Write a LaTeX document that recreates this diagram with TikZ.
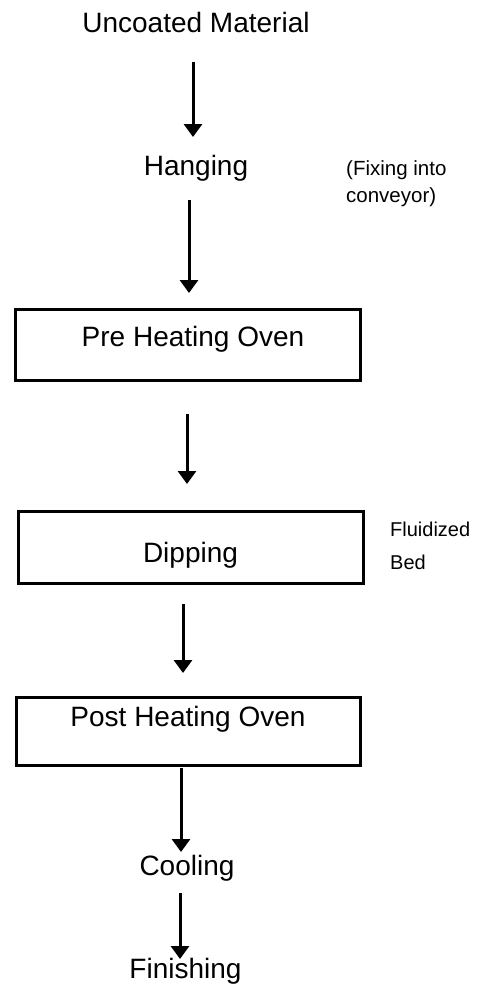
\documentclass[tikz,border=0pt]{standalone}
\usepackage{fontspec}
\setmainfont{Liberation Sans}
\usetikzlibrary{arrows.meta}
\begin{document}
\begin{tikzpicture}[x=1pt,y=-1pt,
  big/.style={font=\fontsize{28}{30}\selectfont, inner sep=0pt, anchor=base},
  small/.style={inner sep=0pt, align=left, anchor=north west},
  stagebox/.style={draw, line width=3pt, inner sep=0pt},
  flow/.style={line width=3pt, -{Triangle[width=18pt,length=13pt]}}]
\useasboundingbox[fill=white] (0,0) rectangle (480,989);

% texts
\node[big] (uncoated) at (196,32) {Uncoated Material};
\node[big] (hanging) at (196,175) {Hanging};
\node[small, font=\fontsize{20.5}{27}\selectfont] (fixing) at (346,160) {(Fixing into\\conveyor)};

\node[stagebox, minimum width=345pt, minimum height=71pt] (prebox) at (187.5,344.5) {};
\node[big] (pre) at (193,346) {Pre Heating Oven};

\node[stagebox, minimum width=345pt, minimum height=72pt] (dipbox) at (190.5,547) {};
\node[big] (dip) at (190.5,562) {Dipping};
\node[small, font=\fontsize{20}{33}\selectfont] (fluid) at (390,522) {Fluidized\\Bed};

\node[stagebox, minimum width=344pt, minimum height=68pt] (postbox) at (188,731) {};
\node[big] (post) at (188,726) {Post Heating Oven};

\node[big] (cooling) at (187,875) {Cooling};
\node[big] (finishing) at (185.5,978) {Finishing};

% arrow ends
\coordinate (a1s) at (193,62);  \coordinate (a1e) at (193,137);
\coordinate (a2s) at (189,200); \coordinate (a2e) at (189,293);
\coordinate (a3s) at (187,414); \coordinate (a3e) at (187,484);
\coordinate (a4s) at (183,604); \coordinate (a4e) at (183,673);
\coordinate (a5s) at (181,768); \coordinate (a5e) at (181,852);
\coordinate (a6s) at (180,893); \coordinate (a6e) at (180,959);

\draw[flow] (a1s) -- (a1e);
\draw[flow] (a2s) -- (a2e);
\draw[flow] (a3s) -- (a3e);
\draw[flow] (a4s) -- (a4e);
\draw[flow] (a5s) -- (a5e);
\draw[flow] (a6s) -- (a6e);
\end{tikzpicture}
\end{document}
